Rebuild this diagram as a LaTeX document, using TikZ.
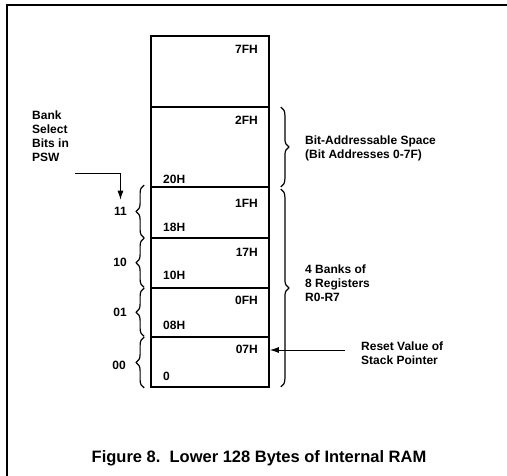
\documentclass[tikz,border=0pt]{standalone}
\usepackage{fontspec}
\setmainfont{Liberation Sans}
\usetikzlibrary{decorations.pathreplacing,arrows.meta}
\tikzset{
  region/.style={draw, line width=1.8pt, minimum width=118pt, inner sep=0pt},
  addr/.style={inner sep=0pt, font=\fontsize{12}{14}\selectfont\bfseries},
  lbl/.style={inner sep=0pt, align=left, font=\fontsize{12}{14}\selectfont\bfseries},
  brc/.style={decorate, decoration={brace, amplitude=8pt}, line width=1.2pt},
  arr/.style={line width=0.9pt, -{Latex[length=9pt,width=6pt]}},
}
\begin{document}
\begin{tikzpicture}[x=1pt,y=-1pt]
\useasboundingbox (0,0) rectangle (507,476);
% frame (top and left edges)
\draw[line width=2pt] (7,476) -- (7,5) -- (507,5);
% memory regions
\node[region, minimum height=71pt] (top) at (210,71.5) {};
\node[region, minimum height=80pt] (bit) at (210,147) {};
\node[region, minimum height=51pt] (b3) at (210,212.5) {};
\node[region, minimum height=50pt] (b2) at (210,263) {};
\node[region, minimum height=49pt] (b1) at (210,312.5) {};
\node[region, minimum height=50pt] (b0) at (210,362) {};
% address labels
\node[addr, anchor=east] (a7f) at (258,49.5) {7FH};
\node[addr, anchor=east] (a2f) at (258,120) {2FH};
\node[addr, anchor=west] (a20) at (163,179.5) {20H};
\node[addr, anchor=east] (a1f) at (258,203.5) {1FH};
\node[addr, anchor=west] (a18) at (163,227.5) {18H};
\node[addr, anchor=east] (a17) at (258,252) {17H};
\node[addr, anchor=west] (a10) at (163,275.5) {10H};
\node[addr, anchor=east] (a0f) at (258,300.5) {0FH};
\node[addr, anchor=west] (a08) at (163,325.5) {08H};
\node[addr, anchor=east] (a07) at (258,349.5) {07H};
\node[addr, anchor=west] (a00) at (163,376.5) {0};
% left braces with bank numbers
\draw[brc] ([xshift=-6pt,yshift=1pt]b3.south west) -- ([xshift=-6pt,yshift=1pt]b3.north west);
\draw[brc] ([xshift=-6pt,yshift=1.5pt]b2.south west) -- ([xshift=-6pt,yshift=-1pt]b2.north west);
\draw[brc] ([xshift=-6pt,yshift=1.5pt]b1.south west) -- ([xshift=-6pt,yshift=-1pt]b1.north west);
\draw[brc] ([xshift=-6pt,yshift=0pt]b0.south west) -- ([xshift=-6pt,yshift=-1pt]b0.north west);
\node[addr, anchor=east] (l3) at (127,211) {11};
\node[addr, anchor=east] (l2) at (127,262) {10};
\node[addr, anchor=east] (l1) at (127,312) {01};
\node[addr, anchor=east] (l0) at (126,365) {00};
% right braces
\draw[brc] ([xshift=11pt,yshift=-1pt]bit.north east) -- ([xshift=11pt,yshift=1pt]bit.south east);
\draw[brc] ([xshift=11pt,yshift=-3pt]b3.north east) -- ([xshift=11pt,yshift=1pt]b0.south east);
% text labels
\node[lbl, anchor=north west] (bsel) at (32,111) {Bank\\Select\\Bits in\\PSW};
\node[lbl, anchor=west] (bas) at (305,148.5) {Bit-Addressable Space\\(Bit Addresses 0-7F)};
\node[lbl, anchor=west] (banks) at (305,283) {4 Banks of\\8 Registers\\R0-R7};
\node[lbl, anchor=west] (rst) at (361,353) {Reset Value of\\Stack Pointer};
% arrows
\coordinate (bsfrom) at (75,173);
\draw[arr] (bsfrom) -| ([yshift=7pt]l3.north);
\coordinate (rsfrom) at (345,350);
\draw[arr] (rsfrom) -- (b0.east |- rsfrom);
% caption
\node[inner sep=0pt, font=\fontsize{16.5}{20}\selectfont\bfseries] (cap) at (259,458) {Figure 8.\ \ Lower 128 Bytes of Internal RAM};
\end{tikzpicture}
\end{document}
